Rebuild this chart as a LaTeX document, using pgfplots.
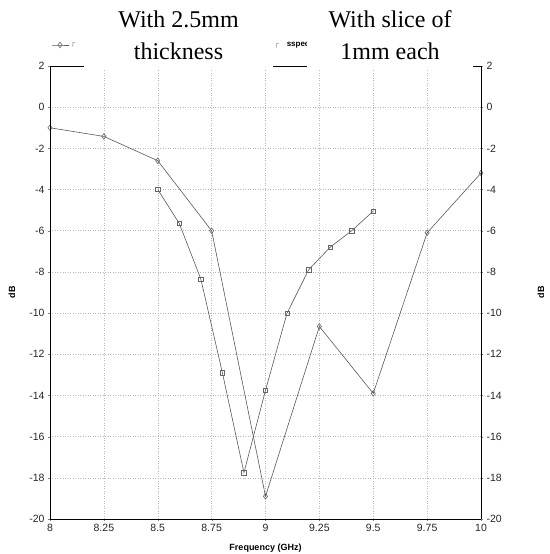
\documentclass[border=0pt]{standalone}
\usepackage{fontspec}
\setmainfont{Liberation Sans}
\newfontfamily\seriffont{Liberation Serif}
\newfontfamily\dejavu{DejaVu Sans}
\usepackage{pgfplots}
\pgfplotsset{compat=1.18}
\usetikzlibrary{calc}

\pgfplotsset{
  base/.style={
    width=431pt, height=453pt, scale only axis,
    xmin=8, xmax=10, ymin=-20, ymax=2,
    xtick={8,8.25,8.5,8.75,9,9.25,9.5,9.75,10},
    xticklabels={8,8.25,8.5,8.75,9,9.25,9.5,9.75,10},
    ytick={-20,-18,-16,-14,-12,-10,-8,-6,-4,-2,0,2},
    yticklabels={-20,-18,-16,-14,-12,-10,-8,-6,-4,-2,0,2},
    tick label style={font=\fontsize{10.5}{12}\selectfont, text=black!85},
    /pgf/number format/assume math mode=true,
    major tick length=2pt, tick align=outside, tick style={black!50},
    axis line style={black, line width=0.8pt},
  },
}

\begin{document}
\begin{tikzpicture}
\begin{axis}[base,
    xtick pos=bottom, ytick pos=left,
    grid=major,
    major grid style={gray!55, dash pattern=on 1pt off 1.5pt, line width=0.5pt},
    xlabel={\textbf{Frequency (GHz)}},
    xlabel style={at={([yshift=-29pt]axis description cs:0.5,0)}, anchor=center, font=\fontsize{9}{10}\selectfont},
    ylabel={\textbf{dB}},
    ylabel style={at={([xshift=-38pt]axis description cs:0,0.5)}, anchor=center, font=\fontsize{9}{10}\selectfont},
    legend columns=2,
    legend style={at={([yshift=21pt]axis description cs:0,1)}, anchor=west,
      draw=none, fill=none, font=\fontsize{8}{9}\selectfont, inner xsep=1pt},
]
\addplot[black!65, line width=0.6pt, mark=diamond, mark size=2.8pt,
  mark options={solid, black!60, fill=white}] coordinates {
  (8,-1.0) (8.25,-1.42) (8.5,-2.6) (8.75,-6.0) (9,-18.9)
  (9.25,-10.65) (9.5,-13.9) (9.75,-6.1) (10,-3.2)};
\addlegendentry{\makebox[182pt][l]{\textcolor{gray}{\dejavu\scriptsize ┌}}}
\addplot[black!65, line width=0.6pt, mark=square, mark size=2.2pt,
  mark options={solid, black!60, fill=white}] coordinates {
  (8.5,-4.0) (8.6,-5.65) (8.7,-8.35) (8.8,-12.9) (8.9,-17.75) (9,-13.75)
  (9.1,-10.0) (9.2,-7.9) (9.3,-6.8) (9.4,-6.0) (9.5,-5.05)};
\addlegendentry{\textcolor{gray}{\dejavu\scriptsize ┌}\hspace{8pt}\textbf{sspectrum}}
\coordinate (sw) at (rel axis cs:0,0);
\coordinate (ne) at (rel axis cs:1,1);
\coordinate (nw) at (rel axis cs:0,1);
\end{axis}
\begin{axis}[base,
    hide x axis, ytick pos=right, yticklabel pos=right,
    ylabel={\textbf{dB}},
    ylabel style={at={([xshift=60pt]axis description cs:1,0.5)}, anchor=center, font=\fontsize{9}{10}\selectfont},
]
\end{axis}
\node[fill=white, minimum width=189pt, minimum height=70pt, inner sep=0pt,
  align=center, font=\seriffont\fontsize{24}{32}\selectfont]
  at ($(nw)+(128.5pt,31pt)$) {With 2.5mm\\thickness};
\node[fill=white, minimum width=166pt, minimum height=70pt, inner sep=0pt,
  align=center, font=\seriffont\fontsize{24}{32}\selectfont]
  at ($(nw)+(340pt,31pt)$) {With slice of\\1mm each};
\pgfresetboundingbox
\path[use as bounding box] ($(sw)+(-50pt,-35pt)$) rectangle ($(ne)+(69pt,66pt)$);
\end{tikzpicture}
\end{document}
